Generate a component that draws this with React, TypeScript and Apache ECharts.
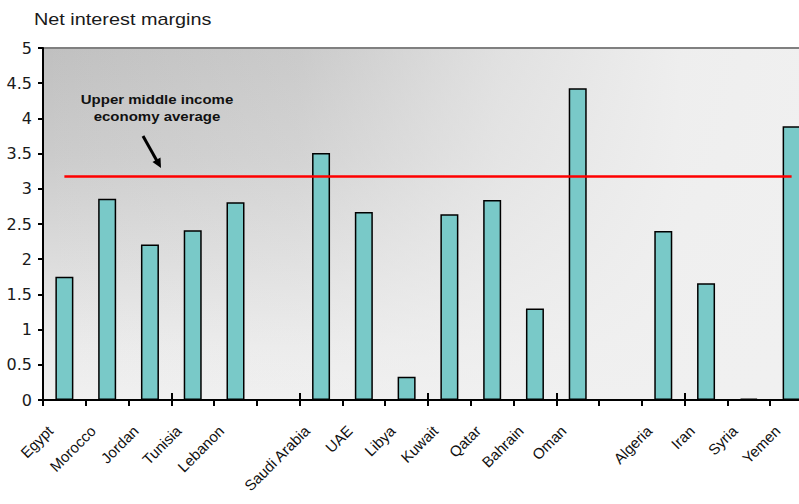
import React, { useEffect, useRef } from 'react';
import * as echarts from 'echarts';

const categories = ['Egypt', 'Morocco', 'Jordan', 'Tunisia', 'Lebanon', ' ', 'Saudi Arabia', 'UAE', 'Libya', 'Kuwait', 'Qatar', 'Bahrain', 'Oman', '  ', 'Algeria', 'Iran', 'Syria', 'Yemen'];
const margins = [1.75, 2.86, 2.21, 2.41, 2.81, null, 3.51, 2.67, 0.33, 2.64, 2.84, 1.3, 4.43, null, 2.4, 1.66, 0.02, 3.89];
const averageValue = 3.18;
const yMin = 0;
const yMax = 5;
const yInterval = 0.5;
const titleText = 'Net interest margins';
const annotationText = 'Upper middle income\neconomy average';

export default function App() {
  const ref = useRef<HTMLDivElement>(null);
  useEffect(() => {
    document.body.style.margin = '0';
    if (!ref.current) return;
    const chart = echarts.init(ref.current, null, { renderer: 'svg' });
    const gl = 43, gt = 48, gw = 770, gh = 352;
    chart.setOption({
      animation: false,
      grid: { left: gl, top: gt, right: 830 - gl - gw, bottom: 504 - gt - gh, show: true, borderColor: '#808080', borderWidth: 2, backgroundColor: 'transparent' },
      graphic: [
        {
          type: 'rect', z: -20, silent: true,
          shape: { x: gl, y: gt, width: gw, height: gh },
          style: {
            fill: new echarts.graphic.LinearGradient(0, 0, 0, 1, [
              { offset: 0, color: '#c0c0c0' },
              { offset: 0.3, color: '#cbcbcb' },
              { offset: 0.6, color: '#dcdcdc' },
              { offset: 0.85, color: '#ebebeb' },
              { offset: 1, color: '#f0f0f0' },
            ]),
          },
        },
        {
          type: 'rect', z: -19, silent: true,
          shape: { x: gl, y: gt, width: gw, height: gh },
          style: {
            fill: new echarts.graphic.LinearGradient(0, 0, 1, 0, [
              { offset: 0, color: 'rgba(240,240,240,0)' },
              { offset: 0.33, color: 'rgba(240,240,240,0.21)' },
              { offset: 0.59, color: 'rgba(240,240,240,0.67)' },
              { offset: 0.83, color: 'rgba(240,240,240,0.96)' },
              { offset: 1, color: 'rgba(240,240,240,1)' },
            ]),
          },
        },
        {
          type: 'text', x: 34, y: 12, scaleX: 1.24, silent: true,
          style: { x: 0, y: 0, text: titleText, fill: '#1a1a1a', font: '16px "Liberation Sans", Arial, sans-serif', textAlign: 'left', textVerticalAlign: 'top' },
        },
        {
          type: 'text', x: 157, y: 92, scaleX: 1.25, silent: true, z: 10,
          style: { x: 0, y: 0, text: annotationText, fill: '#111', font: 'bold 12px "Liberation Sans", Arial, sans-serif', textAlign: 'center', textVerticalAlign: 'top', lineHeight: 17 },
        },
        {
          type: 'line', silent: true, z: 10,
          shape: { x1: 143, y1: 136, x2: 157, y2: 161 },
          style: { stroke: '#000', lineWidth: 3 },
        },
        {
          type: 'polygon', silent: true, z: 10,
          shape: { points: [[161, 168], [160.5, 157.5], [152.5, 162]] },
          style: { fill: '#000' },
        },
      ],
      xAxis: [
        {
          type: 'category',
          data: categories,
          position: 'bottom',
          axisLine: { show: true, onZero: false, lineStyle: { color: '#000', width: 2 } },
          axisTick: { show: true, length: 6, lineStyle: { color: '#000', width: 2 } },
          axisLabel: {
            show: true, interval: 0, rotate: 45, margin: 14,
            padding: [0, 20, 0, 0],
            color: '#111', fontSize: 15, fontFamily: '"Liberation Sans", Arial, sans-serif',
          },
          splitLine: { show: false },
        },
        {
          type: 'category',
          data: categories,
          position: 'bottom',
          axisLine: { show: false },
          axisTick: { show: true, inside: true, length: 7, lineStyle: { color: '#000', width: 2 } },
          axisLabel: { show: false },
          splitLine: { show: false },
        },
      ],
      yAxis: {
        type: 'value',
        min: yMin, max: yMax, interval: yInterval,
        axisLine: { show: true, lineStyle: { color: '#000', width: 2 } },
        axisTick: { show: true, length: 5, lineStyle: { color: '#000', width: 2 } },
        axisLabel: { margin: 11, color: '#1a1a1a', fontSize: 16, fontFamily: '"DejaVu Sans", sans-serif', formatter: (v: number) => String(v) },
        splitLine: { show: false },
      },
      series: [
        {
          type: 'bar',
          xAxisIndex: 0,
          data: margins,
          barWidth: 18,
          itemStyle: { color: '#79c9c8', borderColor: '#000', borderWidth: 1.5 },
          markLine: {
            silent: true,
            symbol: 'none',
            label: { show: false },
            lineStyle: { color: '#ff0000', width: 2.5, type: 'solid' },
            data: [[{ coord: ['Egypt', averageValue] }, { coord: ['Yemen', averageValue] }]],
          },
        },
      ],
    });
    return () => chart.dispose();
  }, []);
  return (
    <div style={{ width: 799, height: 504, overflow: 'hidden', position: 'relative' }}>
      <div ref={ref} style={{ width: 830, height: 504 }} />
    </div>
  );
}
